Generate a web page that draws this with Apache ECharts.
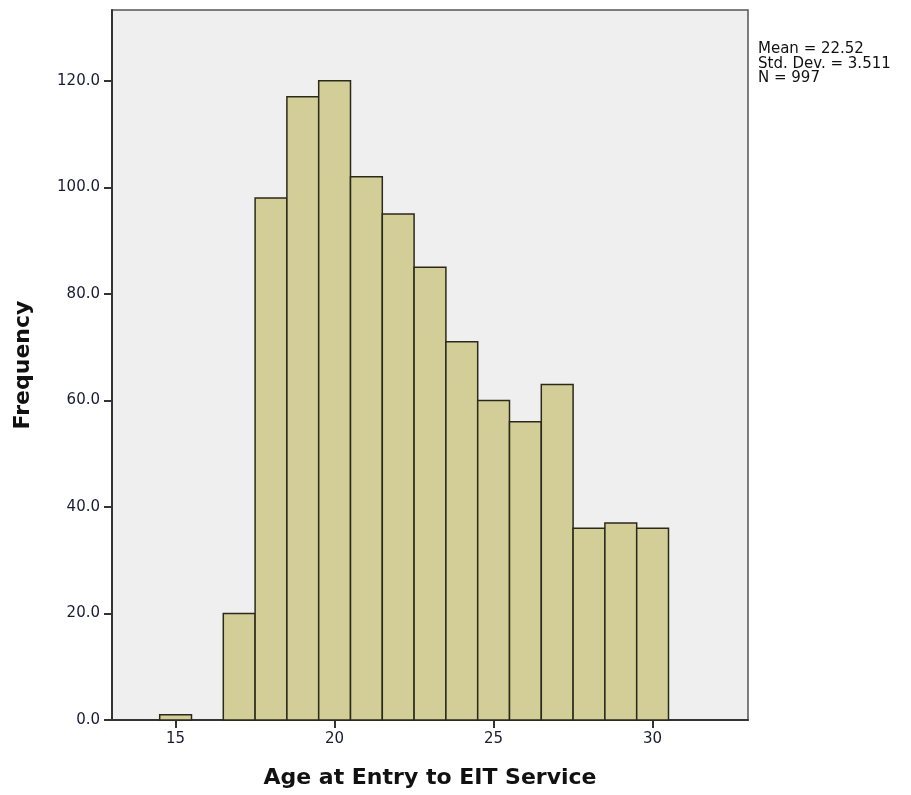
<!DOCTYPE html>
<html>
<head>
<meta charset="utf-8">
<script src="https://cdn.jsdelivr.net/npm/echarts@6/dist/echarts.min.js"></script>
<style>html,body{margin:0;padding:0;background:#fff;}#c{width:911px;height:795px;}</style>
</head>
<body>
<div id="c"></div>
<script>
const ages = [15, 16, 17, 18, 19, 20, 21, 22, 23, 24, 25, 26, 27, 28, 29, 30];
const frequencies = [1, 0, 20, 98, 117, 120, 102, 95, 85, 71, 60, 56, 63, 36, 37, 36];
const yTicks = [0, 20, 40, 60, 80, 100, 120];
const xTicks = [15, 20, 25, 30];
const statsLines = ['Mean = 22.52', 'Std. Dev. = 3.511', 'N = 997'];

const chart = echarts.init(document.getElementById('c'));
const FONT = '"DejaVu Sans", sans-serif';
const data = ages.map((a, i) => [a, frequencies[i]]).filter(d => d[1] > 0);

chart.setOption({
  animation: false,
  backgroundColor: '#ffffff',
  grid: {
    left: 112, top: 10, right: 163, bottom: 75,
    show: true, backgroundColor: '#EFEFEF', borderColor: '#555', borderWidth: 1.5
  },
  xAxis: {
    type: 'value', min: 13, max: 33,
    name: 'Age at Entry to EIT Service',
    nameLocation: 'middle', nameGap: 47,
    nameTextStyle: { fontFamily: FONT, fontSize: 22, fontWeight: 'bold', color: '#111' },
    axisLine: { show: true, onZero: false, lineStyle: { color: '#333', width: 2 } },
    axisTick: { show: true, length: 8, customValues: xTicks, lineStyle: { color: '#333', width: 2 } },
    axisLabel: { customValues: xTicks, fontFamily: FONT, fontSize: 15, color: '#1a1a33', margin: 12 },
    splitLine: { show: false }
  },
  yAxis: {
    type: 'value', min: 0, max: 133.3,
    name: 'Frequency',
    nameLocation: 'middle', nameGap: 78, nameRotate: 90,
    nameTextStyle: { fontFamily: FONT, fontSize: 22, fontWeight: 'bold', color: '#111' },
    axisLine: { show: true, lineStyle: { color: '#333', width: 2 } },
    axisTick: { show: true, length: 8, customValues: yTicks, lineStyle: { color: '#333', width: 2 } },
    axisLabel: { customValues: yTicks, fontFamily: FONT, fontSize: 15, color: '#1a1a33', margin: 12,
      formatter: v => v.toFixed(1) },
    splitLine: { show: false }
  },
  series: [{
    type: 'custom',
    data: data,
    renderItem: function (params, api) {
      const x = api.value(0), y = api.value(1);
      const p0 = api.coord([x - 0.5, y]);
      const p1 = api.coord([x + 0.5, 0]);
      return {
        type: 'rect',
        shape: { x: p0[0], y: p0[1], width: p1[0] - p0[0], height: p1[1] - p0[1] },
        style: { fill: '#D3CE98', stroke: '#2a2a1a', lineWidth: 1.5 }
      };
    }
  }],
  graphic: [{
    type: 'text', left: 758, top: 42,
    style: { text: statsLines.join('\n'), fontFamily: FONT, fontSize: 15, lineHeight: 14.5, fill: '#111' }
  }]
});
</script>
</body>
</html>
